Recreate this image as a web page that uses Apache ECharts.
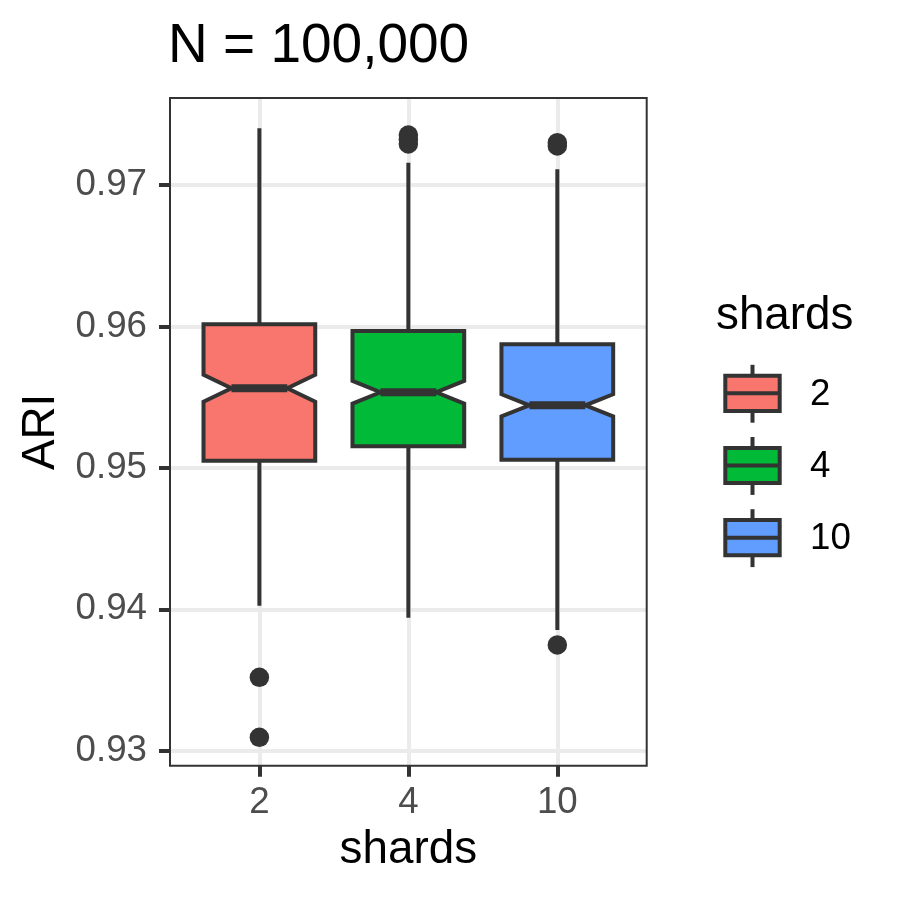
<!DOCTYPE html>
<html>
<head>
<meta charset="utf-8">
<script src="https://cdn.jsdelivr.net/npm/echarts@6/dist/echarts.min.js"></script>
<style>
  html, body { margin: 0; padding: 0; background: #fff; }
  #chart { width: 900px; height: 900px; }
</style>
</head>
<body>
<div id="chart"></div>
<script>
// data
var categories = ['2', '4', '10'];
var colors = ['#F8766D', '#00BA38', '#619CFF'];
var whiskerLow = [0.94025, 0.93941, 0.93854];
var q1 = [0.95051, 0.95153, 0.95058];
var notchLow = [0.95468, 0.95455, 0.95365];
var median = [0.95563, 0.95535, 0.95443];
var notchHigh = [0.95658, 0.95615, 0.95521];
var q3 = [0.96016, 0.95968, 0.95874];
var whiskerHigh = [0.97402, 0.97158, 0.97112];
var outliers = [[0.93519, 0.93095], [0.97354, 0.97322, 0.97291], [0.97300, 0.97277, 0.93748]];
var yTicks = [0.93, 0.94, 0.95, 0.96, 0.97];
var yMinor = [0.935, 0.945, 0.955, 0.965, 0.975];
var xTicks = [1, 2, 3];

var font = 'Liberation Sans, Arial, sans-serif';
var dark = '#333333';

var boxData = categories.map(function (c, i) {
    return [i + 1, whiskerLow[i], q1[i], notchLow[i], median[i], notchHigh[i], q3[i], whiskerHigh[i], i];
});
var outlierData = [];
outliers.forEach(function (list, i) {
    list.forEach(function (v) { outlierData.push([i + 1, v]); });
});

function renderBox(params, api) {
    var x = api.value(0), idx = api.value(8);
    var wl = api.value(1), b1 = api.value(2), nl = api.value(3), md = api.value(4),
        nh = api.value(5), b3 = api.value(6), wh = api.value(7);
    var hw = 0.375, nw = 0.1875;
    function p(dx, v) { return api.coord([x + dx, v]); }
    var a, b;
    a = p(0, b3); b = p(0, wh);
    var up = { type: 'line', shape: { x1: a[0], y1: a[1], x2: b[0], y2: b[1] }, style: { stroke: dark, lineWidth: 4 } };
    a = p(0, b1); b = p(0, wl);
    var down = { type: 'line', shape: { x1: a[0], y1: a[1], x2: b[0], y2: b[1] }, style: { stroke: dark, lineWidth: 4 } };
    var body = {
        type: 'polygon',
        shape: { points: [p(-hw, b3), p(hw, b3), p(hw, nh), p(nw, md), p(hw, nl), p(hw, b1),
                          p(-hw, b1), p(-hw, nl), p(-nw, md), p(-hw, nh)] },
        style: { fill: colors[idx], stroke: dark, lineWidth: 4, lineJoin: 'miter' }
    };
    a = p(-nw, md); b = p(nw, md);
    var mid = { type: 'line', shape: { x1: a[0], y1: a[1], x2: b[0], y2: b[1] }, style: { stroke: dark, lineWidth: 8 } };
    return { type: 'group', children: [up, down, body, mid] };
}

// legend drawn by hand (ggplot style boxplot keys)
var legendItems = [{
    type: 'text', left: 716, top: 293,
    style: { text: 'shards', font: '45.8px ' + font, fill: '#000' }
}];
categories.forEach(function (c, i) {
    var cy = 393.3 + i * 72.2;
    legendItems.push(
        { type: 'line', shape: { x1: 752.5, y1: cy - 28.5, x2: 752.5, y2: cy - 17.6 }, style: { stroke: dark, lineWidth: 4 } },
        { type: 'line', shape: { x1: 752.5, y1: cy + 17.6, x2: 752.5, y2: cy + 29.4 }, style: { stroke: dark, lineWidth: 4 } },
        { type: 'rect', shape: { x: 725.3, y: cy - 17.6, width: 54.4, height: 35.2 }, style: { fill: colors[i], stroke: dark, lineWidth: 4 } },
        { type: 'line', shape: { x1: 727, y1: cy, x2: 778, y2: cy }, style: { stroke: dark, lineWidth: 4 } },
        { type: 'text', x: 810, y: cy + 1.5, style: { text: c, font: '36.7px ' + font, fill: '#000', verticalAlign: 'middle' } }
    );
});

var gridLines = [];
yMinor.forEach(function (v) { gridLines.push({ yAxis: v, lineStyle: { width: 2 } }); });
yTicks.forEach(function (v) { gridLines.push({ yAxis: v, lineStyle: { width: 4 } }); });
xTicks.forEach(function (v) { gridLines.push({ xAxis: v, lineStyle: { width: 4 } }); });

var myChart = echarts.init(document.getElementById('chart'));
var option = {
    animation: false,
    backgroundColor: '#fff',
    textStyle: { fontFamily: font },
    title: {
        text: 'N = 100,000',
        left: 168, top: 19, padding: 0,
        textStyle: { fontSize: 55, fontWeight: 'normal', color: '#000', fontFamily: font }
    },
    grid: {
        left: 170, right: 253.3, top: 98, bottom: 134.3,
        show: true, z: 10, backgroundColor: 'transparent',
        borderColor: dark, borderWidth: 2
    },
    xAxis: {
        type: 'value', min: 0.4, max: 3.6,
        name: 'shards', nameLocation: 'middle', nameGap: 62,
        nameTextStyle: { fontSize: 45.8, color: '#000', fontFamily: font },
        axisLine: { show: false },
        splitLine: { show: false },
        axisTick: { customValues: xTicks, length: 11, lineStyle: { color: dark, width: 4 } },
        axisLabel: {
            customValues: xTicks, margin: 19, fontSize: 36.7, color: '#4D4D4D', fontFamily: font,
            formatter: function (v) { return categories[Math.round(v) - 1]; }
        }
    },
    yAxis: {
        type: 'value', min: 0.92894, max: 0.97616,
        name: 'ARI', nameLocation: 'middle', nameGap: 105,
        nameTextStyle: { fontSize: 45.8, color: '#000', fontFamily: font },
        axisLine: { show: false },
        splitLine: { show: false },
        axisTick: { customValues: yTicks, length: 11, lineStyle: { color: dark, width: 4 } },
        axisLabel: {
            customValues: yTicks, margin: 23, fontSize: 36.7, color: '#4D4D4D', fontFamily: font,
            formatter: function (v) { return v.toFixed(2); }
        }
    },
    graphic: legendItems,
    series: [
        {
            type: 'line', data: [], z: 1, silent: true,
            markLine: {
                z: 1, silent: true, symbol: ['none', 'none'], animation: false,
                label: { show: false },
                lineStyle: { color: '#EBEBEB', type: 'solid' },
                data: gridLines
            }
        },
        {
            type: 'custom', renderItem: renderBox, data: boxData, z: 3
        },
        {
            type: 'scatter', data: outlierData, symbolSize: 19.5, z: 4,
            itemStyle: { color: dark, opacity: 1 }
        }
    ]
};
myChart.setOption(option);
</script>
</body>
</html>
